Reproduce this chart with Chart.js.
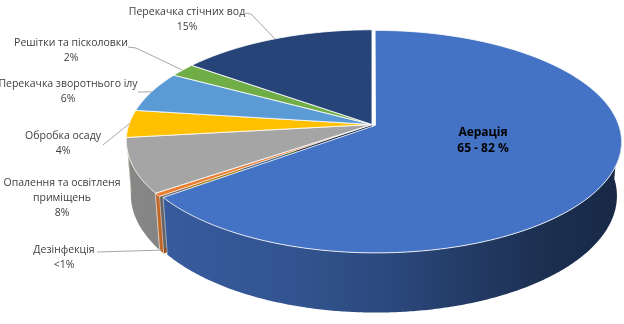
<!DOCTYPE html>
<html><head><meta charset="utf-8">
<script src="https://cdn.jsdelivr.net/npm/chart.js@4.4.0/dist/chart.umd.min.js"></script>
<style>html,body{margin:0;padding:0;background:#fff;}canvas{display:block}</style>
</head><body>
<canvas id="c" width="624" height="324"></canvas>
<script>
// ---- data ----
const categories = ["Аерація", "Дезінфекція", "Опалення та освітленя приміщень", "Обробка осаду", "Перекачка зворотнього ілу", "Решітки та пісколовки", "Перекачка стічних вод"];
const shares = [65, 0.5, 8, 4, 6, 2, 15];
const valueLabels = ["65 - 82 %", "<1%", "8%", "4%", "6%", "2%", "15%"];
const nameLines = [["Аерація"], ["Дезінфекція"], ["Опалення та освітленя", "приміщень"], ["Обробка осаду"], ["Перекачка зворотнього ілу"], ["Решітки та пісколовки"], ["Перекачка стічних вод"]];
const colors = ["#4472C4", "#ED7D31", "#A5A5A5", "#FFC000", "#5B9BD5", "#70AD47", "#264478"];
const explode = [2, 0, 0, 0, 0, 0, 0];

// ---- layout (label text positions, leader start points) ----
const labelPos = [[483, 133], [64, 250], [62, 183], [63, 136], [68, 84], [71, 43], [187, 12]];
const leaderStart = [null, [[97, 252]], null, [[103, 145]], [[138, 92]], [[128, 47], [136, 48]], [[245, 13], [251, 14]]];
const leaderAtBottom = [false, true, false, false, false, false, false];

// ---- 3D projection parameters ----
const HALF_W = 243, K = 0.1467, S = 0.0733, SIN_T = 0.447, COS_T = 0.894, DEPTH = 0.25;

function rgb(hex) { return [1, 3, 5].map(i => parseInt(hex.substr(i, 2), 16)); }
function shade(hex, f) { const c = rgb(hex).map(v => Math.round(v * f)); return `rgb(${c[0]},${c[1]},${c[2]})`; }

const pie3d = {
  id: 'pie3d',
  beforeDatasetsDraw() { return false; },
  afterDraw(chart) {
    const ctx = chart.ctx;
    const arcs = chart.getDatasetMeta(0).data;
    const cx = arcs[0].x, cy = arcs[0].y;
    const P = (u, v, h) => { const zn = 1 + K * v - S * h; return [cx + HALF_W * u / zn, cy + HALF_W * (-v * SIN_T - h * COS_T) / zn]; };
    const sl = arcs.map((a, i) => {
      const a0 = a.startAngle + Math.PI / 2, a1 = a.endAngle + Math.PI / 2, m = (a0 + a1) / 2;
      const off = (a.options.offset || 0) / a.outerRadius;
      return { i, a0, a1, m, ou: off * Math.sin(m), ov: off * Math.cos(m), col: colors[i] };
    });
    const edge = (s, phi, h) => P(s.ou + Math.sin(phi), s.ov + Math.cos(phi), h);
    const steps = (a0, a1) => Math.max(2, Math.ceil((a1 - a0) / (Math.PI / 360)));

    ctx.save();
    ctx.lineJoin = 'round';
    // radial faces
    sl.forEach(s => {
      [s.a0, s.a1].forEach(phi => {
        ctx.beginPath();
        let p = P(s.ou, s.ov, 0); ctx.moveTo(p[0], p[1]);
        p = edge(s, phi, 0); ctx.lineTo(p[0], p[1]);
        p = edge(s, phi, -DEPTH); ctx.lineTo(p[0], p[1]);
        p = P(s.ou, s.ov, -DEPTH); ctx.lineTo(p[0], p[1]);
        ctx.closePath();
        ctx.fillStyle = shade(s.col, 0.6); ctx.fill();
      });
    });
    // outer walls (front half), far first
    const walls = sl.slice().sort((a, b) => Math.cos(b.m) - Math.cos(a.m));
    walls.forEach(s => {
      const b0 = Math.max(s.a0, Math.PI / 2), b1 = Math.min(s.a1, 3 * Math.PI / 2);
      if (b1 <= b0) return;
      const n = steps(b0, b1);
      ctx.beginPath();
      for (let k = 0; k <= n; k++) { const p = edge(s, b0 + (b1 - b0) * k / n, 0); k ? ctx.lineTo(p[0], p[1]) : ctx.moveTo(p[0], p[1]); }
      for (let k = n; k >= 0; k--) { const p = edge(s, b0 + (b1 - b0) * k / n, -DEPTH); ctx.lineTo(p[0], p[1]); }
      ctx.closePath();
      const g = ctx.createLinearGradient(cx - HALF_W, 0, cx + HALF_W, 0);
      [[0, 0.82], [0.35, 0.73], [0.56, 0.62], [0.72, 0.5], [0.88, 0.4], [1, 0.36]].forEach(([o, f]) => g.addColorStop(o, shade(s.col, f)));
      ctx.fillStyle = g; ctx.fill();
      ctx.strokeStyle = 'rgba(255,255,255,0.6)'; ctx.lineWidth = 0.8;
      [b0, b1].forEach(phi => {
        if ((phi === s.a0 || phi === s.a1)) {
          const p = edge(s, phi, 0), q = edge(s, phi, -DEPTH);
          ctx.beginPath(); ctx.moveTo(p[0], p[1]); ctx.lineTo(q[0], q[1]); ctx.stroke();
        }
      });
    });
    // top faces
    sl.forEach(s => {
      const n = steps(s.a0, s.a1);
      ctx.beginPath();
      let p = P(s.ou, s.ov, 0); ctx.moveTo(p[0], p[1]);
      for (let k = 0; k <= n; k++) { p = edge(s, s.a0 + (s.a1 - s.a0) * k / n, 0); ctx.lineTo(p[0], p[1]); }
      ctx.closePath();
      ctx.fillStyle = s.col; ctx.fill();
      ctx.strokeStyle = 'rgba(255,255,255,0.85)'; ctx.lineWidth = 1; ctx.stroke();
    });
    // leader lines
    ctx.strokeStyle = '#A6A6A6'; ctx.lineWidth = 1;
    sl.forEach(s => {
      const st = leaderStart[s.i]; if (!st) return;
      const end = edge(s, s.m, leaderAtBottom[s.i] ? -DEPTH * 0.97 : 0);
      ctx.beginPath(); ctx.moveTo(st[0][0], st[0][1]);
      for (let k = 1; k < st.length; k++) ctx.lineTo(st[k][0], st[k][1]);
      ctx.lineTo(end[0], end[1]); ctx.stroke();
    });
    // labels
    ctx.textAlign = 'center'; ctx.textBaseline = 'middle';
    sl.forEach(s => {
      const [x, y] = labelPos[s.i];
      const lines = nameLines[s.i].concat([valueLabels[s.i]]);
      if (s.i === 0) { ctx.font = 'bold 12px "Open Sans"'; ctx.fillStyle = '#000'; }
      else { ctx.font = '10.5px "Open Sans"'; ctx.fillStyle = '#404040'; }
      const gap = s.i === 0 ? 16 : 15;
      lines.forEach((t, k) => ctx.fillText(t, x, y + k * gap));
    });
    ctx.restore();
  }
};

new Chart(document.getElementById('c').getContext('2d'), {
  type: 'pie',
  data: { labels: categories, datasets: [{ data: shares, backgroundColor: colors, offset: explode, borderWidth: 0 }] },
  options: {
    responsive: false, animation: false,
    layout: { padding: { left: 120, right: 0, top: 0, bottom: 75 } },
    plugins: { legend: { display: false }, tooltip: { enabled: false } }
  },
  plugins: [pie3d]
});
</script>
</body></html>
